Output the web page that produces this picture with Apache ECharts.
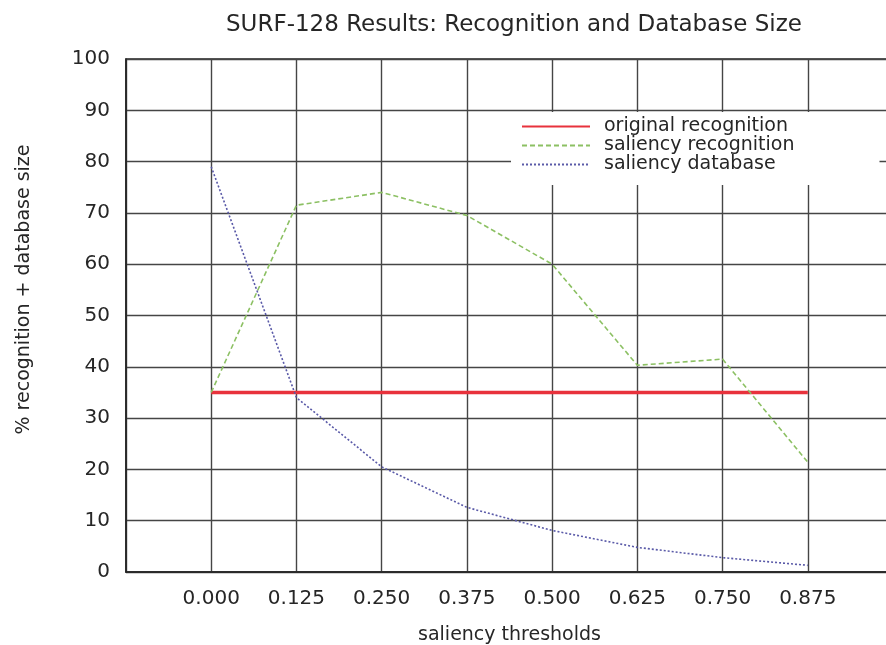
<!DOCTYPE html>
<html>
<head>
<meta charset="utf-8">
<script src="https://cdn.jsdelivr.net/npm/echarts@6/dist/echarts.min.js"></script>
<style>
  html, body { margin: 0; padding: 0; background: #fff; }
  #chart { width: 886px; height: 645px; }
</style>
</head>
<body>
<div id="chart"></div>
<script>
// saliency thresholds (x)
const thresholds = [0.000, 0.125, 0.250, 0.375, 0.500, 0.625, 0.750, 0.875];
// % values
const originalRecognition = [35, 35, 35, 35, 35, 35, 35, 35];
const saliencyRecognition = [35, 71.5, 74, 69.5, 60, 40.3, 41.5, 21.4];
const saliencyDatabase = [79, 34, 20.5, 12.6, 8.1, 4.8, 2.8, 1.3];
const yTicks = [0, 10, 20, 30, 40, 50, 60, 70, 80, 90, 100];

const font = 'DejaVu Sans';
const textCol = '#262626';
const gridCol = '#454545';

function pairs(ys) {
    return thresholds.map(function (x, i) { return [x, ys[i]]; });
}

const myChart = echarts.init(document.getElementById('chart'));
const options = {
    animation: false,
    backgroundColor: '#fff',
    title: {
        text: 'SURF-128 Results: Recognition and Database Size',
        left: 221,
        top: 9,
        textStyle: { fontFamily: font, fontSize: 23, fontWeight: 'normal', color: textCol }
    },
    // right border of the original plot sits just outside the picture
    grid: {
        left: 126, right: -7, top: 59, bottom: 73,
        outerBoundsMode: 'none',
        show: true, borderColor: '#222', borderWidth: 1.5
    },
    legend: {
        orient: 'vertical',
        left: 511, top: 112,
        itemWidth: 68, itemHeight: 14, itemGap: 0,
        padding: [5, 85, 11, 10],
        backgroundColor: '#fff',
        itemStyle: { opacity: 0 },
        textStyle: { fontFamily: font, fontSize: 19, color: textCol, padding: [0, 0, 0, 9] },
        data: ['original recognition', 'saliency recognition', 'saliency database']
    },
    xAxis: {
        type: 'value',
        min: -0.125, max: 1.0, interval: 0.125,
        name: 'saliency thresholds',
        nameLocation: 'middle', nameGap: 54,
        nameTextStyle: { fontFamily: font, fontSize: 19, color: textCol },
        axisLine: { show: true, onZero: false, lineStyle: { color: '#222', width: 1.5 } },
        axisTick: { show: false },
        axisLabel: {
            margin: 17,
            fontFamily: font, fontSize: 20, color: textCol,
            formatter: function (v) {
                if (v < -0.001 || v > 0.876) return '';
                return v.toFixed(3);
            }
        },
        splitLine: { show: true, lineStyle: { color: gridCol, width: 1.4 } }
    },
    yAxis: {
        type: 'value',
        min: yTicks[0], max: yTicks[yTicks.length - 1], interval: 10,
        name: '% recognition + database size',
        nameLocation: 'middle', nameGap: 92,
        nameTextStyle: { fontFamily: font, fontSize: 19, color: textCol, padding: [0, 0, 0, 52] },
        axisLine: { show: true, onZero: false, lineStyle: { color: '#222', width: 1.5 } },
        axisTick: { show: false },
        axisLabel: { margin: 16, fontFamily: font, fontSize: 20, color: textCol },
        splitLine: { show: true, lineStyle: { color: gridCol, width: 1.4 } }
    },
    series: [
        {
            name: 'original recognition',
            type: 'line',
            symbol: 'none',
            data: pairs(originalRecognition),
            lineStyle: { color: '#e8323c', width: 3.5 },
            itemStyle: { color: '#e8323c' },
            z: 3
        },
        {
            name: 'saliency recognition',
            type: 'line',
            symbol: 'none',
            data: pairs(saliencyRecognition),
            lineStyle: { color: '#8cc063', width: 1.6, type: [5, 3] },
            itemStyle: { color: '#8cc063' },
            z: 4
        },
        {
            name: 'saliency database',
            type: 'line',
            symbol: 'none',
            data: pairs(saliencyDatabase),
            lineStyle: { color: '#5a5aa8', width: 1.6, type: [2, 2] },
            itemStyle: { color: '#5a5aa8' },
            z: 5
        }
    ]
};
myChart.setOption(options);
</script>
</body>
</html>
